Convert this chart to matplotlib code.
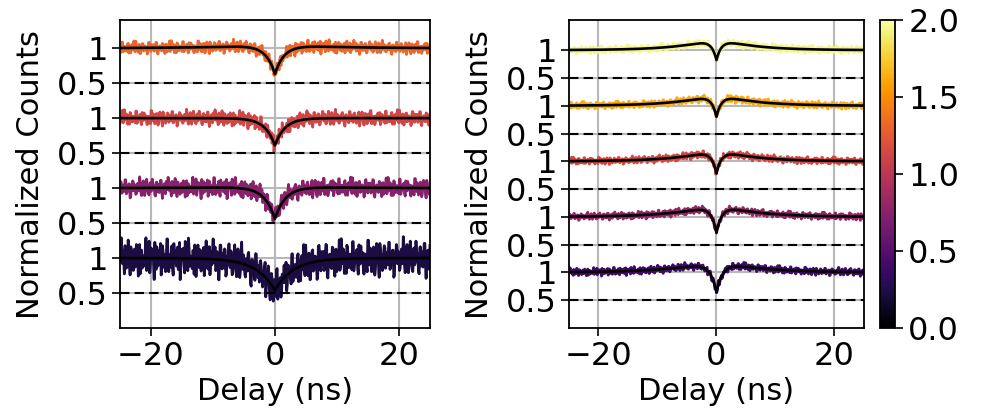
"""Stacked g2 antibunching traces with fits, two power series and a shared colour scale."""

import matplotlib as mpl
import matplotlib.pyplot as plt
import numpy as np

# shared residual pattern (x0.1, roughly unit variance after scaling)
NOISE = [
    3, -8, 12, -2, 5, -14, 7, 1, -5, 9, -11, 4, 15, -6, -1, 8, -19, 2, 10, -7,
    -3, 13, -9, 6, 0, -12, 17, -4, 3, -8, 11, -15, 5, 7, -2, -10, 14, -6, 1, 9,
    -13, 4, -1, 18, -7, 2, -9, 6, 12, -16, 3, -4, 8, -11, 0, 10, -5, 16, -8, 1,
    -14, 7, 5, -3, 11, -9, 2, -18, 13, -1, 6, -7, 9, -12, 4, 15, -6, 0, -10, 8,
    3, -13, 12, -2, -7, 19, -5, 1, -11, 6, 10, -4, -15, 7, 2, -8, 14, -3, 5, -9,
    11, -1, -6, 8, -17, 4, 13, -10, 0, 6, -12, 9, -2, 16, -7, 3, -14, 5, 1, -5,
    12, -9, 7, -3, -11, 15, -1, 4, -8, 10, -13, 2, 6, -4, 18, -10, 0, -6, 9, -15,
    3, 11, -7, 5, -2, -12, 14, -5, 8, -1, -9, 6, 13, -16, 2, 4, -8, 10, -3, 7,
    -11, 1, 17, -6, -4, 9, -13, 5, 12, -2, -7, 3, -10, 15, -5, 0, 8, -14, 6, 11,
    -3, -9, 4, 2, -12, 16, -6, 1, -1, 10, -15, 7, 3, -8, 13, -4, -11, 5, 9, -2,
    -6, 14, -10, 0, 7, -17, 4, 12, -5, 2, -9, 8, -3, 11, -13, 6, 1, -7, 15, -1,
    -12, 9, -4, 5, 3, -14, 10, -2, -8, 13, -6, 0, 7, -10, 4, 18, -5, -3, 11, -9,
    2, 6, -15, 8, -1,
]

# left panel, bottom to top
LEFT_POWER = [0.22, 0.74, 1.12, 1.32]
LEFT_DIP = [0.46, 0.47, 0.39, 0.43]
LEFT_TAU_DIP = [3.0, 1.7, 1.6, 1.5]
LEFT_BUNCH = [0.0, 0.03, 0.0, 0.06]
LEFT_TAU_BUNCH = [8.0, 8.0, 8.0, 8.0]
LEFT_SIGMA = [0.145, 0.075, 0.06, 0.05]

# right panel, bottom to top
RIGHT_POWER = [0.40, 0.80, 1.14, 1.62, 1.94]
RIGHT_DIP = [0.58, 0.52, 0.44, 0.42, 0.40]
RIGHT_TAU_DIP = [1.1, 0.9, 0.85, 0.85, 0.85]
RIGHT_BUNCH = [0.22, 0.23, 0.22, 0.22, 0.22]
RIGHT_TAU_BUNCH = [7.0, 6.5, 6.0, 6.0, 6.0]
RIGHT_SIGMA = [0.038, 0.036, 0.036, 0.036, 0.038]

XTICKS = [-20, 0, 20]
CBAR_TICKS = [0.0, 0.5, 1.0, 1.5, 2.0]

TICK_FS = 23
LABEL_FS = 22
cmap = mpl.colormaps["inferno"]
norm = mpl.colors.Normalize(vmin=0, vmax=2)


def g2(t, dip, tau_dip, bunch, tau_bunch):
    return 1 - dip * np.exp(-np.abs(t) / tau_dip) + bunch * np.exp(-np.abs(t) / tau_bunch)


def residuals(shift):
    # interleave the pattern with a reversed, shifted copy for a finer time grid
    base = np.array(NOISE, dtype=float) / 9.0
    other = np.roll(base[::-1], 53 + shift)
    out = np.empty(2 * len(base))
    out[0::2] = np.roll(base, shift)
    out[1::2] = other
    return out


def draw_panel(ax, powers, dips, tau_dips, bunches, tau_bunches, sigmas, ymax):
    for i, power in enumerate(powers):
        params = (dips[i], tau_dips[i], bunches[i], tau_bunches[i])
        resid = residuals(37 * i + 11)
        t = np.linspace(-25, 25, len(resid))
        ax.plot(t, g2(t, *params) + sigmas[i] * resid + i, color=cmap(norm(power)),
                lw=2.0, zorder=2)
        tf = np.linspace(-25, 25, 2001)
        ax.plot(tf, g2(tf, *params) + i, color="black", lw=1.9, zorder=3)
        ax.axhline(i + 0.5, color="black", ls="--", lw=1.5, dashes=(4.5, 2.5), zorder=4)
    n = len(powers)
    ticks = [v for i in range(n) for v in (i + 0.5, i + 1)]
    labels = [lab for _ in range(n) for lab in ("0.5", "1")]
    ax.set_yticks(ticks, labels)
    ax.set_xticks(XTICKS)
    ax.set_xlim(-25, 25)
    ax.set_ylim(0, ymax)
    ax.grid(True, color="#b8b8b8", lw=1.5, zorder=0)
    ax.set_axisbelow(True)
    ax.tick_params(labelsize=TICK_FS, length=6, width=1.2, pad=3)
    ax.set_xlabel("Delay (ns)", fontsize=LABEL_FS)
    ax.set_ylabel("Normalized Counts", fontsize=LABEL_FS, labelpad=8)
    for sp in ax.spines.values():
        sp.set_linewidth(1.3)


fig = plt.figure(figsize=(9.89, 4.2), dpi=100)
ax_l = fig.add_axes([0.1213, 0.219, 0.3134, 0.733])
ax_r = fig.add_axes([0.5753, 0.219, 0.2983, 0.733])
cax = fig.add_axes([0.8898, 0.219, 0.0152, 0.733])

draw_panel(ax_l, LEFT_POWER, LEFT_DIP, LEFT_TAU_DIP, LEFT_BUNCH, LEFT_TAU_BUNCH,
           LEFT_SIGMA, 4.4)
draw_panel(ax_r, RIGHT_POWER, RIGHT_DIP, RIGHT_TAU_DIP, RIGHT_BUNCH, RIGHT_TAU_BUNCH,
           RIGHT_SIGMA, 5.54)

cb = fig.colorbar(mpl.cm.ScalarMappable(norm=norm, cmap=cmap), cax=cax, ticks=CBAR_TICKS)
cb.ax.tick_params(labelsize=TICK_FS, length=6, width=1.2)
cb.outline.set_linewidth(1.3)

fig.savefig("out.png", dpi=100)
